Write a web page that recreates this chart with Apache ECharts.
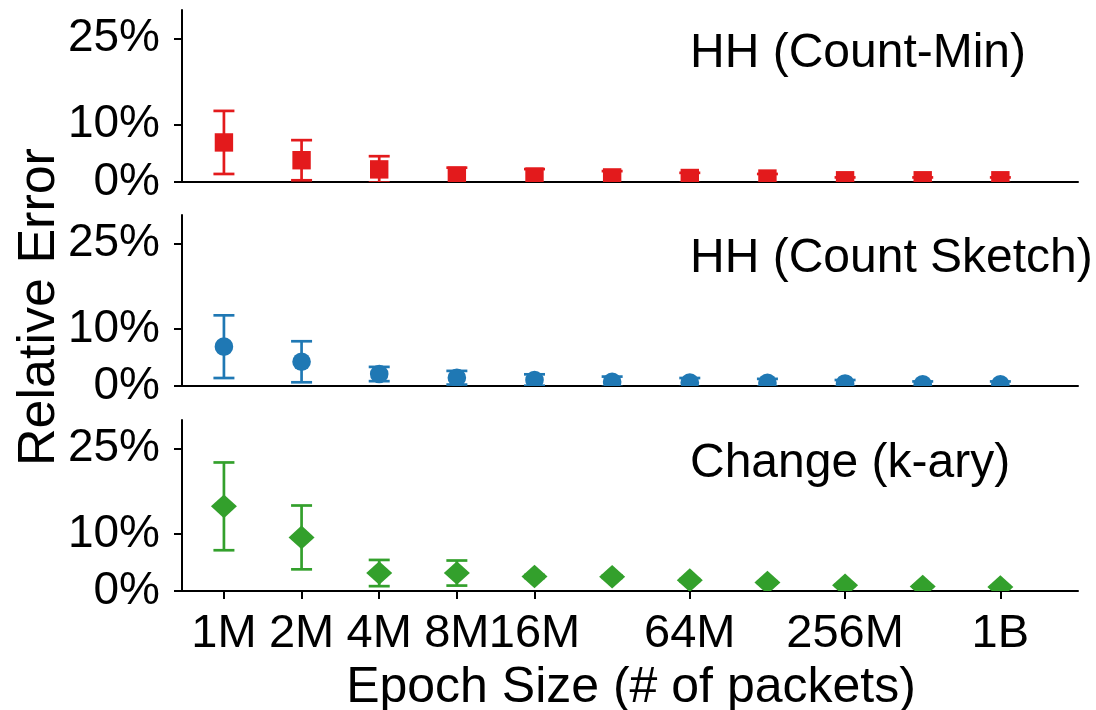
<!DOCTYPE html>
<html>
<head>
<meta charset="utf-8">
<script src="https://cdn.jsdelivr.net/npm/echarts@6/dist/echarts.min.js"></script>
<style>
html,body{margin:0;padding:0;background:#fff;}
#chart{width:1096px;height:710px;}
</style>
</head>
<body>
<div id="chart"></div>
<script>
// ---- data ----
const sizes = ['1M','2M','4M','8M','16M','32M','64M','128M','256M','512M','1B'];
const xTickLabels = ['1M','2M','4M','8M','16M','64M','256M','1B'];
const yTickValues = [0, 10, 25];

const panelTitles = ['HH (Count-Min)', 'HH (Count Sketch)', 'Change (k-ary)'];

const cmMean = [6.9, 3.8, 2.2, 1.1, 0.95, 0.8, 0.7, 0.6, 0.3, 0.3, 0.3];
const cmErr  = [5.5, 3.5, 2.3, 1.4, 1.3, 1.1, 0.9, 0.8, 0.5, 0.5, 0.5];

const csMean = [6.9, 4.25, 2.1, 1.45, 1.05, 0.75, 0.6, 0.55, 0.45, 0.3, 0.3];
const csErr  = [5.5, 3.6, 1.25, 1.2, 1.0, 0.9, 0.8, 0.7, 0.6, 0.5, 0.5];

const chMean = [14.85, 9.4, 3.15, 3.15, 2.55, 2.5, 1.9, 1.5, 1.0, 0.8, 0.7];
const chErr  = [7.7, 5.6, 2.3, 2.2, 0.25, 0.2, 0.2, 0.2, 0.15, 0.15, 0.15];

// ---- styling ----
const FONT = '"Liberation Sans", Arial, sans-serif';
const colors = ['#e31a1c', '#1f78b4', '#33a02c'];
const markers = ['square', 'circle', 'diamond'];
const means = [cmMean, csMean, chMean];
const errs = [cmErr, csErr, chErr];
const grids = [
  {left: 182, right: 18, top: 10, height: 172},
  {left: 182, right: 18, top: 215, height: 171},
  {left: 182, right: 18, top: 420, height: 171}
];
const xTickPos = xTickLabels.map(l => sizes.indexOf(l));

const chart = echarts.init(document.getElementById('chart'), null, {renderer: 'canvas'});

const xAxes = [], yAxes = [], series = [];
for (let p = 0; p < 3; p++) {
  const last = p === 2;
  xAxes.push({
    type: 'value', gridIndex: p, min: -0.54, max: 11.0,
    axisLine: {show: true, onZero: false, lineStyle: {color: '#000', width: 2}},
    axisTick: {show: last, length: 8, lineStyle: {color: '#000', width: 2}, customValues: xTickPos},
    axisLabel: {show: last, margin: 20, color: '#000', fontSize: 47, fontFamily: FONT,
      customValues: xTickPos, formatter: v => sizes[Math.round(v)] },
    splitLine: {show: false}
  });
  yAxes.push({
    type: 'value', gridIndex: p, min: 0, max: 30,
    axisLine: {show: true, onZero: false, lineStyle: {color: '#000', width: 2}},
    axisTick: {show: true, length: 8, lineStyle: {color: '#000', width: 2}, customValues: yTickValues},
    axisLabel: {show: true, margin: 22, color: '#000', fontSize: 46, fontFamily: FONT,
      customValues: yTickValues, formatter: v => v + '%'},
    splitLine: {show: false}
  });
  const color = colors[p];
  const marker = markers[p];
  const data = means[p].map((m, i) => [i, m, m - errs[p][i], m + errs[p][i]]);
  series.push({
    type: 'custom', xAxisIndex: p, yAxisIndex: p, clip: true, z: 2,
    data: data,
    encode: {x: 0, y: [1, 2, 3]},
    renderItem: function (params, api) {
      const x = api.value(0);
      const pHi = api.coord([x, api.value(3)]);
      const pLo = api.coord([x, api.value(2)]);
      const hw = 10.5;
      const st = {stroke: color, lineWidth: 2.7};
      return {type: 'group', children: [
        {type: 'line', shape: {x1: pHi[0], y1: pHi[1], x2: pLo[0], y2: pLo[1]}, style: st},
        {type: 'line', shape: {x1: pHi[0] - hw, y1: pHi[1], x2: pHi[0] + hw, y2: pHi[1]}, style: st},
        {type: 'line', shape: {x1: pLo[0] - hw, y1: pLo[1], x2: pLo[0] + hw, y2: pLo[1]}, style: st}
      ]};
    }
  });
  series.push({
    type: 'custom', xAxisIndex: p, yAxisIndex: p, clip: true, z: 3,
    data: data,
    encode: {x: 0, y: 1},
    renderItem: function (params, api) {
      const c = api.coord([api.value(0), api.value(1)]);
      const st = {fill: color};
      if (marker === 'square') {
        return {type: 'rect', shape: {x: c[0] - 9.2, y: c[1] - 9.2, width: 18.4, height: 18.4}, style: st};
      } else if (marker === 'circle') {
        return {type: 'circle', shape: {cx: c[0], cy: c[1], r: 9.3}, style: st};
      }
      return {type: 'polygon', shape: {points: [[c[0], c[1] - 11.8], [c[0] + 13, c[1]], [c[0], c[1] + 11.8], [c[0] - 13, c[1]]]}, style: st};
    }
  });
}

const titleY = [55, 260, 465];
const graphics = panelTitles.map((t, i) => ({
  type: 'text', left: 690, top: titleY[i] - 25,
  style: {text: t, fontSize: 48, fontFamily: FONT, fill: '#000'}
}));
graphics.push({
  type: 'text', x: 40, y: 307, rotation: Math.PI / 2,
  style: {text: 'Relative Error', fontSize: 52, fontFamily: FONT, fill: '#000', align: 'center', verticalAlign: 'middle'}
});
graphics.push({
  type: 'text', x: 631, y: 688,
  style: {text: 'Epoch Size (# of packets)', fontSize: 50, fontFamily: FONT, fill: '#000', align: 'center', verticalAlign: 'middle'}
});

chart.setOption({
  backgroundColor: '#fff',
  animation: false,
  grid: grids,
  xAxis: xAxes,
  yAxis: yAxes,
  series: series,
  graphic: graphics
});
</script>
</body>
</html>
